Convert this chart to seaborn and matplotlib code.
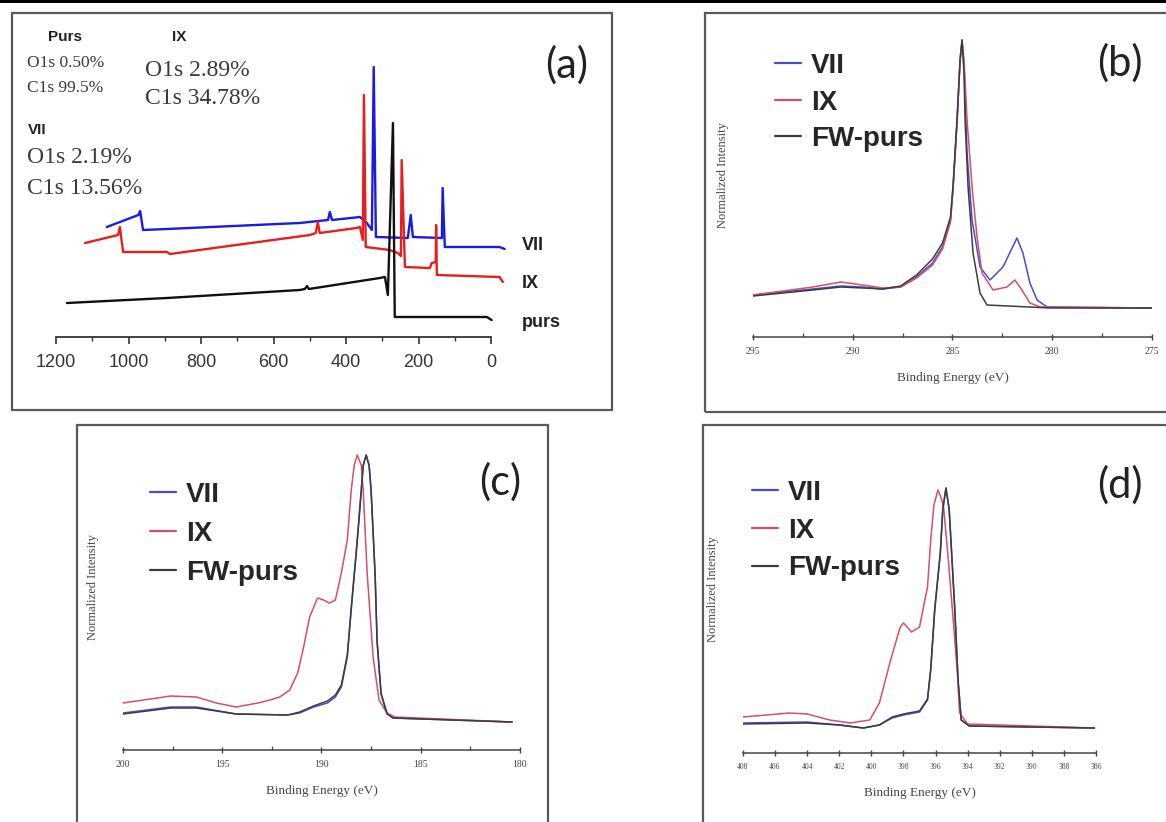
import numpy as np
import pandas as pd
import matplotlib
matplotlib.use("Agg")
import matplotlib.pyplot as plt
import seaborn as sns
from matplotlib.patches import Rectangle

# ---------------- data ----------------
# (a) survey spectra: binding energy (eV) and intensity (a.u.)
a_purs_be = [1170, 894, 528, 514, 508, 503, 307, 293, 285, 271, 266, 12, -1]
a_purs_i = [34, 39, 47, 48, 51, 48, 59, 60, 42, 214, 20, 20, 17]
a_vii_be = [1060, 973, 968, 960, 894, 528, 450, 445, 439, 362, 343, 329, 324, 318,
            230, 222, 216, 136, 134, 128, -23, -37]
a_vii_i = [110, 122, 126, 107, 108, 114, 117, 125, 117, 120, 114, 107, 270, 100,
           99, 122, 100, 99, 149, 90, 90, 88]
a_ix_be = [1120, 1029, 1024, 1015, 894, 886, 500, 484, 478, 473, 371, 362, 354, 351,
           346, 280, 258, 249, 247, 238, 169, 164, 153, 152, 150, -23, -32]
a_ix_i = [94, 102, 110, 85, 85, 83, 102, 104, 115, 104, 109, 110, 97, 242,
          90, 87, 84, 81, 177, 70, 69, 74, 75, 112, 62, 60, 55]
a_ticks = [1200, 1000, 800, 600, 400, 200, 0]

# (b) C1s region
b_vii_be = [295.0, 293.5, 292.0, 290.6, 289.5, 288.5, 287.6, 286.8, 286.0, 285.5, 285.1, 284.97,
            284.77, 284.62, 284.52, 284.42, 284.27, 284.02, 283.62, 283.12, 282.47, 281.77,
            281.47, 281.12, 280.76, 280.26, 275.0]
b_vii_i = [42, 45, 48, 51, 50, 48, 50, 60, 74, 90, 117, 150,
           217, 277, 297, 270, 184, 117, 70, 57, 70, 99,
           84, 54, 37, 30, 29]
b_ix_be = [295.0, 293.5, 292.0, 290.6, 289.5, 288.5, 287.6, 286.8, 286.0, 285.5, 285.1, 284.97,
           284.77, 284.62, 284.52, 284.42, 284.27, 284.02, 283.77, 283.52, 282.97, 282.27,
           281.87, 281.52, 281.12, 280.6, 275.0]
b_ix_i = [42, 46, 50, 55, 52, 49, 50, 59, 72, 88, 115, 148,
          215, 277, 297, 276, 217, 150, 100, 64, 47, 50,
          57, 47, 34, 30, 29]
b_fw_be = [295.0, 293.5, 292.0, 290.6, 289.5, 288.5, 287.6, 286.8, 286.0, 285.5, 285.1, 284.97,
           284.77, 284.62, 284.52, 284.42, 284.37, 284.22, 283.97, 283.62, 283.27, 280.1, 275.0]
b_fw_i = [41, 44, 47, 50, 49, 48, 51, 62, 78, 94, 120, 152,
          218, 277, 297, 262, 217, 150, 84, 44, 32, 29, 29]
b_ticks = [295, 290, 285, 280, 275]

# (c) region 200-180 eV
c_vii_be = [200.0, 197.6, 196.3, 194.3, 191.7, 191.1, 190.4, 189.7, 189.3, 189.0, 188.7, 188.5,
            188.2, 188.0, 187.9, 187.75, 187.6, 187.5, 187.3, 187.2, 187.0, 186.7, 186.4, 180.4]
c_vii_i = [37, 43, 43, 36, 35, 37, 43, 47, 53, 63, 93, 143,
           210, 260, 285, 295, 285, 260, 177, 110, 57, 37, 32, 28]
c_ix_be = [200.0, 197.6, 196.3, 195.3, 194.3, 193.2, 192.6, 192.1, 191.6, 191.2, 190.9, 190.6,
           190.2, 189.9, 189.6, 189.3, 189.0, 188.7, 188.5, 188.35, 188.2, 188.0, 187.9, 187.7,
           187.4, 187.1, 186.7, 186.3, 180.4]
c_ix_i = [47, 54, 53, 47, 43, 47, 50, 53, 60, 77, 103, 133,
          152, 150, 147, 150, 177, 210, 260, 285, 295, 285, 260, 177,
          93, 50, 37, 33, 28]
c_fw_be = [200.0, 197.6, 196.3, 194.3, 191.7, 191.1, 190.4, 189.7, 189.3, 189.0, 188.7, 188.5,
           188.2, 188.0, 187.9, 187.75, 187.6, 187.5, 187.3, 187.2, 187.0, 186.7, 186.4, 180.4]
c_fw_i = [36, 42, 42, 36, 35, 38, 44, 49, 55, 65, 95, 141,
          208, 258, 284, 295, 284, 258, 175, 108, 56, 36, 32, 28]
c_ticks = [200, 195, 190, 185, 180]

# (d) region 408-386 eV
d_vii_be = [408.0, 404.0, 402.0, 400.5, 399.5, 398.7, 398.0, 397.0, 396.5, 396.3, 396.05, 395.7,
            395.55, 395.35, 395.15, 395.0, 394.8, 394.6, 394.4, 393.9, 386.1]
d_vii_i = [30, 31, 28, 25, 28, 35, 38, 41, 53, 83, 143, 200,
           243, 265, 243, 200, 143, 73, 33, 27, 25]
d_ix_be = [408.0, 405.1, 404.0, 402.6, 401.3, 400.1, 399.5, 398.8, 398.2, 398.0, 397.5, 397.0,
           396.5, 396.3, 396.1, 395.85, 395.65, 395.5, 395.2, 394.9, 394.65, 394.5, 394.0, 386.1]
d_ix_i = [36, 40, 39, 33, 30, 33, 50, 93, 126, 130, 121, 126,
          166, 213, 248, 263, 255, 246, 193, 133, 83, 40, 29, 25]
d_fw_be = [408.0, 404.0, 402.0, 400.5, 399.5, 398.7, 398.0, 397.0, 396.5, 396.3, 396.05, 395.7,
           395.55, 395.35, 395.15, 395.0, 394.8, 394.6, 394.4, 393.9, 386.1]
d_fw_i = [29, 30, 28, 25, 28, 36, 39, 42, 54, 84, 144, 201,
          244, 265, 244, 201, 144, 74, 33, 27, 25]
d_ticks = [408, 406, 404, 402, 400, 398, 396, 394, 392, 390, 388, 386]

samples = ["VII", "IX", "FW-purs"]

# ---------------- figure ----------------
sns.set_theme(style="white")
plt.rcParams['font.family'] = ['Liberation Sans', 'DejaVu Sans']

W, H = 1166, 822
fig = plt.figure(figsize=(W / 100, H / 100), dpi=100)
fig.patch.set_facecolor("white")


def fx(x):
    return x / W


def fy(y):
    return 1 - y / H


def make_ax(left, top, right, bottom):
    return fig.add_axes([fx(left), fy(bottom), (right - left) / W, (bottom - top) / H])


def frame(x0, y0, x1, y1):
    fig.patches.append(Rectangle((fx(x0), fy(y1)), (x1 - x0) / W, (y1 - y0) / H,
                                 transform=fig.transFigure, fill=False,
                                 edgecolor="#5a5a5a", linewidth=1.6, clip_on=False))


# top black bar
fig.patches.append(Rectangle((0, fy(3)), 1, 3 / H, transform=fig.transFigure,
                             facecolor="black", edgecolor="none"))

frame(12, 13, 612, 410)
frame(705, 13, 1175, 412)
frame(77, 425, 548, 840)
frame(703, 425, 1175, 840)

# ---------------- panel (a) ----------------
axa = make_ax(56, 13, 513, 337)
dfa = pd.concat([
    pd.DataFrame({"BE": a_vii_be, "I": a_vii_i, "s": "VII"}),
    pd.DataFrame({"BE": a_ix_be, "I": a_ix_i, "s": "IX"}),
    pd.DataFrame({"BE": a_purs_be, "I": a_purs_i, "s": "purs"}),
])
sns.lineplot(data=dfa, x="BE", y="I", hue="s", sort=False, estimator=None,
             palette={"VII": "#1a1ae6", "IX": "#e61e1e", "purs": "#111111"},
             linewidth=1.7, legend=False, ax=axa)
axa.set_xlim(1200, -60)
axa.set_ylim(0, 324)
for s in ["left", "right", "top"]:
    axa.spines[s].set_visible(False)
axa.spines["bottom"].set_bounds(0, 1200)
axa.spines["bottom"].set_color("#333333")
axa.spines["bottom"].set_linewidth(1.3)
axa.set_xticks(a_ticks)
axa.set_xticks(np.arange(100, 1200, 200), minor=True)
axa.tick_params(axis="x", which="major", direction="out", length=5, width=1.2,
                labelsize=13, colors="#333333", pad=7, bottom=True)
axa.tick_params(axis="x", which="minor", direction="out", length=3, width=1.0,
                colors="#333333", bottom=True)
axa.set_yticks([])
axa.set_xlabel("")
axa.set_ylabel("")
axa.patch.set_alpha(0)

for txt, x, y in [("VII", 522, 245), ("IX", 522, 283), ("purs", 522, 322)]:
    fig.text(fx(x), fy(y), txt, fontsize=13, fontweight="bold", color="#222222",
             ha="left", va="center")

bold_small = dict(fontsize=11, fontweight="bold", color="#222222", ha="left", va="center")
fig.text(fx(48), fy(37), "Purs", **bold_small)
fig.text(fx(172), fy(37), "IX", **bold_small)
fig.text(fx(28), fy(130), "VII", **bold_small)
serif = ['Liberation Serif', 'DejaVu Serif']
for txt, x, y, fs in [("O1s 0.50%", 27, 63, 12.5), ("C1s 99.5%", 27, 88, 12.5),
                      ("O1s 2.89%", 145, 70, 17), ("C1s 34.78%", 145, 98, 17),
                      ("O1s 2.19%", 27, 157, 17), ("C1s 13.56%", 27, 188, 17)]:
    fig.text(fx(x), fy(y), txt, fontsize=fs, family=serif, color="#3a3a3a",
             ha="left", va="center")

fig.text(fx(567), fy(65), "(a)", fontsize=30, family=["Lato", "DejaVu Sans"],
         color="#222222", ha="center", va="center")

# ---------------- panels (b), (c), (d) ----------------
pal = {"VII": "#4b4bd2", "IX": "#d2506a", "FW-purs": "#3c3c3c"}


def spectrum_panel(ax, vii, ix, fw, xlim, ticks, minor, tick_fs, label, lab_xy, leg_xy,
                   lab_spacing):
    df = pd.concat([
        pd.DataFrame({"BE": vii[0], "I": vii[1], "s": "VII"}),
        pd.DataFrame({"BE": ix[0], "I": ix[1], "s": "IX"}),
        pd.DataFrame({"BE": fw[0], "I": fw[1], "s": "FW-purs"}),
    ])
    sns.lineplot(data=df, x="BE", y="I", hue="s", hue_order=samples, sort=False,
                 estimator=None, palette=pal, linewidth=1.1, ax=ax)
    ax.set_xlim(*xlim)
    for s in ["left", "right", "top"]:
        ax.spines[s].set_visible(False)
    ax.spines["bottom"].set_color("#444444")
    ax.spines["bottom"].set_linewidth(1.1)
    ax.set_xticks(ticks)
    ax.set_xticks(minor, minor=True)
    ax.set_xticklabels([str(t) for t in ticks], family=serif)
    ax.tick_params(axis="x", which="major", direction="inout", length=5, width=1.0,
                   labelsize=tick_fs, colors="#444444", pad=5, bottom=True)
    ax.tick_params(axis="x", which="minor", direction="in", length=3, width=0.9,
                   colors="#444444", bottom=True)
    ax.set_yticks([])
    ax.set_xlabel("Binding Energy (eV)", family=serif, fontsize=9.5, color="#444444",
                  labelpad=11)
    ax.set_ylabel("Normalized Intensity", family=serif, fontsize=9, color="#444444",
                  labelpad=17)
    ax.patch.set_alpha(0)
    leg = ax.legend(loc="upper left", bbox_to_anchor=(fx(leg_xy[0]), fy(leg_xy[1])),
                    bbox_transform=fig.transFigure, frameon=False,
                    prop={"family": "Liberation Sans", "weight": "bold", "size": 20},
                    handlelength=0.95, handletextpad=0.35, labelspacing=lab_spacing,
                    borderpad=0, borderaxespad=0)
    for line in leg.get_lines():
        line.set_linewidth(1.6)
    fig.text(fx(lab_xy[0]), fy(lab_xy[1]), label, fontsize=30,
             family=["Lato", "DejaVu Sans"], color="#222222", ha="center", va="center")


axb = make_ax(753, 13, 1152, 337)
axb.set_ylim(0, 324)
spectrum_panel(axb, (b_vii_be, b_vii_i), (b_ix_be, b_ix_i), (b_fw_be, b_fw_i),
               (295, 275), b_ticks, [292.5, 287.5, 282.5, 277.5], 7,
               "(b)", (1120, 63), (775, 53), 0.38)

axc = make_ax(123, 425, 520, 750)
axc.set_ylim(0, 325)
spectrum_panel(axc, (c_vii_be, c_vii_i), (c_ix_be, c_ix_i), (c_fw_be, c_fw_i),
               (200, 180), c_ticks, [197.5, 192.5, 187.5, 182.5], 7,
               "(c)", (500, 482), (150, 482), 0.46)

axd = make_ax(743, 425, 1096, 753)
axd.set_ylim(0, 328)
spectrum_panel(axd, (d_vii_be, d_vii_i), (d_ix_be, d_ix_i), (d_fw_be, d_fw_i),
               (408, 386), d_ticks, np.arange(407, 386, 2), 5.5,
               "(d)", (1120, 485), (752, 480), 0.42)

fig.savefig("out.png", dpi=100, facecolor="white")
